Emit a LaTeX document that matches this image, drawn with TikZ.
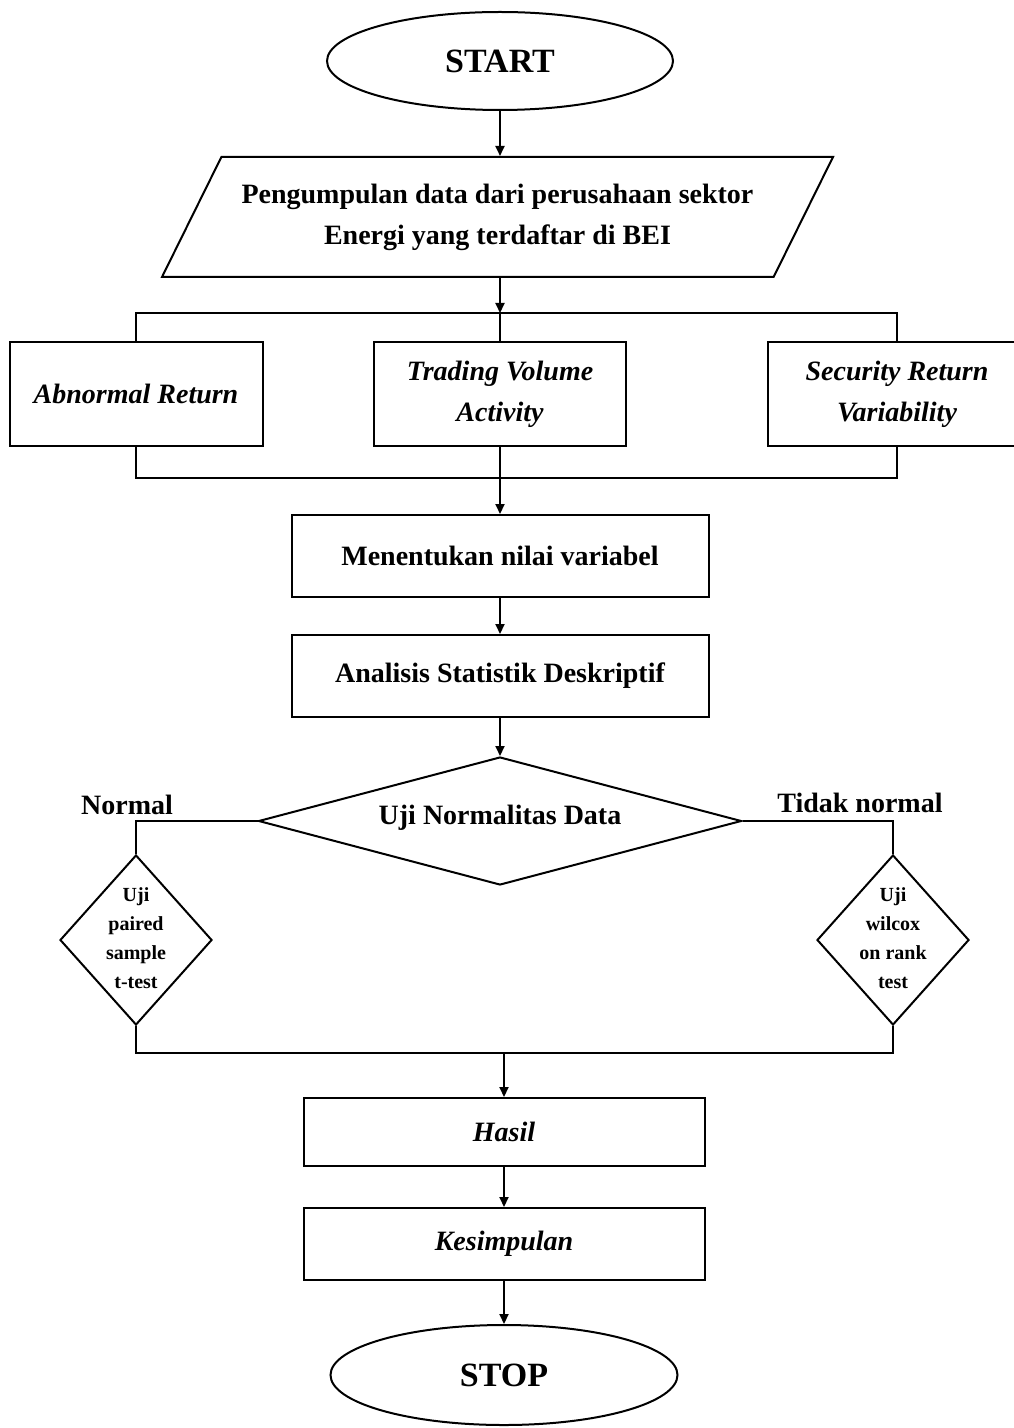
\documentclass[tikz,border=0pt]{standalone}
\usepackage{fontspec}
\setmainfont{Liberation Serif}
\usetikzlibrary{shapes.geometric,arrows.meta}
\begin{document}
\begin{tikzpicture}[x=0.5pt,y=-0.5pt,line width=1pt,
        every node/.style={font=\bfseries\fontsize{14}{20.5}\selectfont},
        arr/.style={-{Triangle[length=5pt,width=4.5pt]}},
        term/.style={draw,ellipse,inner sep=0pt,minimum width=173pt,minimum height=49pt,
            font=\bfseries\fontsize{17}{20}\selectfont},
        databox/.style={draw,trapezium,trapezium left angle=63.4,trapezium right angle=116.6,
            trapezium stretches body,minimum width=335.5pt,minimum height=60pt,align=center,
            inner xsep=2pt,inner ysep=13pt},
        procbox/.style={draw,rectangle,align=center,inner sep=2pt},
        decide/.style={draw,diamond,inner sep=0pt},
        smalltxt/.style={align=center,font=\bfseries\fontsize{10}{14.5}\selectfont}]
            \useasboundingbox (0,0) rectangle (1013,1428);
            \node[term] (start) at (500,61) {START};
            \node[databox] (collect) at (497.5,217) {Pengumpulan data dari perusahaan sektor\\Energi yang terdaftar di BEI};
            \coordinate (split) at (500,313);
            \node[procbox,minimum width=126.5pt,minimum height=52pt] (ar) at (136,394) {\itshape Abnormal Return};
            \node[procbox,minimum width=126pt,minimum height=52pt] (tva) at (500,394) {\itshape Trading Volume\\\itshape Activity};
            \node[procbox,minimum width=129pt,minimum height=52pt] (srv) at (897,394) {\itshape Security Return\\\itshape Variability};
            \coordinate (merge) at (500,478);
            \node[procbox,minimum width=208.5pt,minimum height=41pt] (nilai) at (500,556) {Menentukan nilai variabel};
            \node[procbox,minimum width=208.5pt,minimum height=41pt] (deskr) at (500,676) {Analisis Statistik Deskriptif};
            \node[decide,minimum width=241.5pt,minimum height=64pt,aspect=3.77] (normal) at (500,821) {};
            \node (normaltxt) at (500,818) {Uji Normalitas Data};
            \node (yes) at (127,805) {Normal};
            \node (no) at (860,803) {Tidak normal};
            \node[decide,minimum width=76pt,minimum height=85pt] (paired) at (136,940) {};
            \node[smalltxt] (pairedtxt) at (136,938) {Uji\\paired\\sample\\t-test};
            \node[decide,minimum width=76pt,minimum height=85pt] (wilcox) at (893,940) {};
            \node[smalltxt] (wilcoxtxt) at (893,938) {Uji\\wilcox\\on rank\\test};
            \coordinate (join) at (504,1053);
            \node[procbox,minimum width=200.5pt,minimum height=34pt] (hasil) at (504,1132) {\itshape Hasil};
            \node[procbox,minimum width=200.5pt,minimum height=36pt] (simpul) at (504,1244) {\itshape Kesimpulan};
            \node[term,minimum width=173.5pt,minimum height=50pt] (stop) at (504,1375) {STOP};
            \draw[arr] (start) -- (start |- collect.north);
            \draw[arr] (split |- collect.south) -- (split);
            \draw (ar.north) |- (split) -| (srv.north);
            \draw (split) -- (tva.north);
            \draw (ar.south) |- (merge) -| (srv.south);
            \draw (tva.south) -- (merge);
            \draw[arr] (merge) -- (nilai);
            \draw[arr] (nilai) -- (deskr);
            \draw[arr] (deskr) -- (normal.north);
            \draw (normal.west) -| (paired.north);
            \draw (normal.east) -| (wilcox.north);
            \draw (paired.south) |- (join) -| (wilcox.south);
            \draw[arr] (join) -- (hasil);
            \draw[arr] (hasil) -- (simpul);
            \draw[arr] (simpul) -- (stop);
        \end{tikzpicture}
\end{document}
